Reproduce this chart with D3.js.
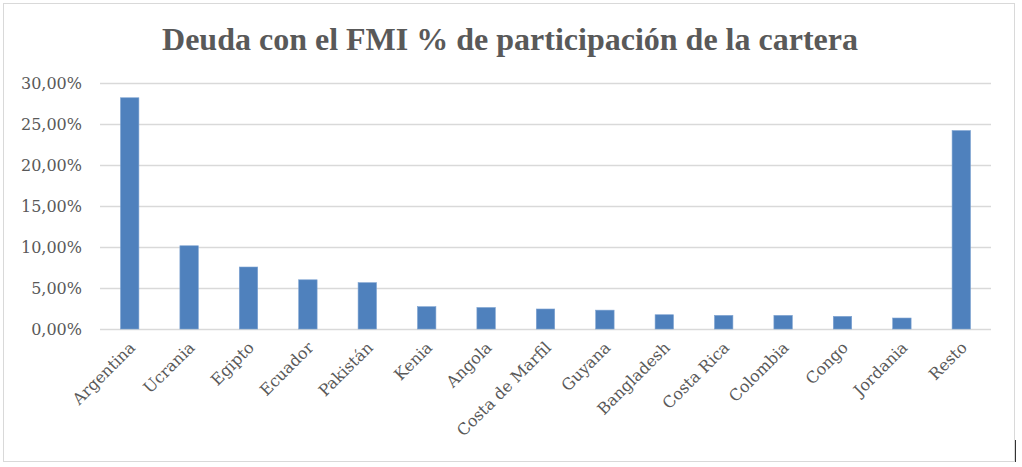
<!DOCTYPE html>
<html><head><meta charset="utf-8">
<script src="https://cdn.jsdelivr.net/npm/d3@7"></script>
<style>
html,body{margin:0;padding:0;background:#fff;}
svg{display:block;}
</style></head>
<body>
<svg id="chart" width="1022" height="467"></svg>
<script>
const title = "Deuda con el FMI % de participación de la cartera";
const categories = ["Argentina","Ucrania","Egipto","Ecuador","Pakistán","Kenia","Angola","Costa de Marfil","Guyana","Bangladesh","Costa Rica","Colombia","Congo","Jordania","Resto"];
const values = [28.2, 10.15, 7.56, 6.0, 5.65, 2.72, 2.62, 2.44, 2.3, 1.74, 1.66, 1.66, 1.54, 1.34, 24.2];
const yTicks = [0, 5, 10, 15, 20, 25, 30];

const svg = d3.select("#chart");
const W = 1022, H = 467;
const m = {left:100, right:31, top:83, bottom:138};
const serif = "'DejaVu Serif', 'Liberation Serif', serif";

svg.append("rect").attr("x",3.5).attr("y",3.5).attr("width",1011).attr("height",458)
  .attr("fill","#fff").attr("stroke","#d9d9d9").attr("stroke-width",1);

const x = d3.scaleBand().domain(categories).range([m.left, W - m.right]).paddingInner(0.69).paddingOuter(0.345);
const y = d3.scaleLinear().domain([0, 30]).range([H - m.bottom, m.top]);

const fmt = v => d3.format(".2f")(v).replace(".", ",") + "%";

// gridlines
svg.append("g").selectAll("line").data(yTicks).join("line")
  .attr("x1", m.left).attr("x2", W - m.right)
  .attr("y1", d => Math.round(y(d)) + 0.5).attr("y2", d => Math.round(y(d)) + 0.5)
  .attr("stroke", "#d9d9d9").attr("stroke-width", 1.3);

// y axis labels
const yAxis = d3.axisLeft(y).tickValues(yTicks).tickFormat(fmt).tickSize(0).tickPadding(0);
const yg = svg.append("g").attr("transform", `translate(${m.left - 18},0)`).call(yAxis);
yg.select(".domain").remove();
yg.selectAll("text").attr("font-family", serif)
  .attr("font-size", 16).attr("fill", "#595959");

// bars
svg.append("g").selectAll("rect").data(values).join("rect")
  .attr("x", (d,i) => x(categories[i]))
  .attr("width", x.bandwidth())
  .attr("y", d => y(d))
  .attr("height", d => y(0) - y(d))
  .attr("fill", "#4f81bd")
  .attr("stroke", "#7ea3d1").attr("stroke-width", 0.6);

// x axis labels
const xAxis = d3.axisBottom(x).tickSize(0).tickPadding(0);
const xg = svg.append("g").attr("transform", `translate(0,${y(0) + 14})`).call(xAxis);
xg.select(".domain").remove();
xg.selectAll("text")
  .attr("font-family", serif)
  .attr("font-size", 16).attr("fill", "#595959")
  .attr("text-anchor","end").attr("dy","0.5em")
  .attr("transform","translate(1,0) rotate(-45)");

// title
svg.append("text").attr("x", 510).attr("y", 50).attr("text-anchor","middle")
  .attr("font-family","'Liberation Serif', 'DejaVu Serif', serif").attr("font-weight","bold")
  .attr("font-size", 32).attr("fill","#595959").text(title);

// cursor artifact at bottom-right
svg.append("line").attr("x1",1015.5).attr("x2",1015.5).attr("y1",440).attr("y2",462)
  .attr("stroke","#333").attr("stroke-width",1);
</script>
</body></html>
